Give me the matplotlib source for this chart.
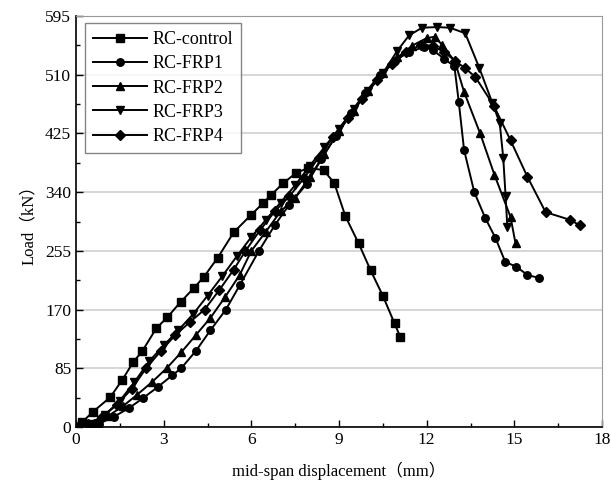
import numpy as np
import matplotlib
matplotlib.use("Agg")
import matplotlib.pyplot as plt
from matplotlib.ticker import MultipleLocator

plt.rcParams['font.family'] = ['Liberation Serif', 'Noto Sans CJK SC']

# RC-control
x_ctrl = [0, 0.21, 0.58, 1.17, 1.58, 1.96, 2.27, 2.75, 3.13, 3.58, 4.03, 4.37, 4.85, 5.4,
          5.99, 6.4, 6.68, 7.09, 7.54, 7.95, 8.47, 8.84, 9.22, 9.67, 10.08, 10.5, 10.9, 11.1]
y_ctrl = [0, 7, 22, 43, 68, 94, 110, 143, 159, 181, 201, 217, 245, 282,
          307, 324, 336, 353, 368, 375, 372, 353, 305, 266, 227, 190, 150, 130]

# RC-FRP1
x_frp1 = [0, 0.8, 1.3, 1.8, 2.3, 2.8, 3.3, 3.6, 4.1, 4.6, 5.13, 5.6, 6.26, 6.8, 7.3, 7.9,
          8.4, 8.9, 9.4, 9.9, 10.4, 10.9, 11.4, 11.9, 12.2, 12.6, 12.95, 13.1, 13.28, 13.63,
          14.0, 14.35, 14.69, 15.07, 15.45, 15.83]
y_frp1 = [0, 5, 15, 27, 42, 58, 75, 85, 110, 140, 170, 205, 255, 292, 322, 352,
          388, 422, 455, 484, 510, 530, 543, 550, 546, 533, 522, 470, 401, 340,
          303, 274, 239, 232, 220, 216]

# RC-FRP2
x_frp2 = [0, 0.6, 1.1, 1.6, 2.1, 2.6, 3.1, 3.6, 4.1, 4.6, 5.1, 5.6, 6.0, 6.5, 7.0, 7.5,
          8.0, 8.5, 9.0, 9.5, 10.0, 10.5, 11.0, 11.5, 12.0, 12.28, 12.53, 12.97, 13.28,
          13.83, 14.32, 14.87, 15.04]
y_frp2 = [0, 6, 16, 30, 47, 65, 85, 108, 133, 158, 188, 220, 255, 283, 312, 332,
          362, 395, 428, 458, 487, 512, 535, 552, 563, 565, 553, 529, 485,
          425, 365, 304, 266]

# RC-FRP3
x_frp3 = [0, 0.5, 1.0, 1.5, 2.0, 2.5, 3.0, 3.5, 4.0, 4.5, 5.0, 5.5, 6.0, 6.5, 7.0, 7.5,
          8.0, 8.5, 9.0, 9.5, 10.0, 10.5, 11.0, 11.4, 11.84, 12.35, 12.8, 13.32, 13.8,
          14.25, 14.5, 14.62, 14.7, 14.76]
y_frp3 = [0, 5, 18, 38, 65, 95, 118, 140, 163, 190, 218, 247, 275, 300, 325, 350,
          378, 405, 432, 460, 487, 512, 545, 567, 578, 579, 578, 570, 520,
          469, 440, 390, 335, 290]

# RC-FRP4
x_frp4 = [0, 0.4, 0.9, 1.4, 1.9, 2.4, 2.9, 3.4, 3.9, 4.4, 4.9, 5.4, 5.8, 6.3, 6.8, 7.3,
          7.8, 8.3, 8.8, 9.3, 9.8, 10.3, 10.8, 11.3, 11.8, 12.2, 12.6, 12.97, 13.3, 13.66,
          14.3, 14.87, 15.45, 16.07, 16.9, 17.24]
y_frp4 = [0, 4, 15, 32, 55, 85, 110, 133, 152, 170, 198, 228, 255, 285, 312, 334,
          360, 390, 420, 448, 475, 502, 525, 543, 553, 552, 543, 530, 520, 507,
          465, 415, 362, 311, 300, 292]

series = [
    ("RC-control", x_ctrl, y_ctrl, "s"),
    ("RC-FRP1", x_frp1, y_frp1, "o"),
    ("RC-FRP2", x_frp2, y_frp2, "^"),
    ("RC-FRP3", x_frp3, y_frp3, "v"),
    ("RC-FRP4", x_frp4, y_frp4, "D"),
]

fig = plt.figure(figsize=(6.11, 4.91), dpi=100)
ax = fig.add_axes([76 / 611, 1 - 427 / 491, (602 - 76) / 611, (427 - 16) / 491])

for name, xs, ys, mk in series:
    ms = 4.6 if mk == "D" else 5.4
    ax.plot(xs, ys, color="black", lw=1.4, marker=mk, ms=ms, label=name)

ax.set_xlim(0, 18)
ax.set_ylim(0, 595)
ax.xaxis.set_major_locator(MultipleLocator(3))
ax.xaxis.set_minor_locator(MultipleLocator(1.5))
ax.yaxis.set_major_locator(MultipleLocator(85))
ax.yaxis.set_minor_locator(MultipleLocator(42.5))
ax.tick_params(which="both", direction="in", labelsize=12.5, colors="black")
ax.tick_params(which="major", length=5, width=1)
ax.tick_params(which="minor", length=3, width=1)
ax.grid(axis="y", which="major", color="#d0d0d0", lw=1.2)
ax.set_axisbelow(True)

for s in ["top", "right"]:
    ax.spines[s].set_color("#999999")
for s in ["left", "bottom"]:
    ax.spines[s].set_color("black")
    ax.spines[s].set_linewidth(1.2)

ax.set_xlabel("mid-span displacement（mm）", fontsize=12, labelpad=10)
ax.set_ylabel("Load（kN）", fontsize=12, labelpad=6)

leg = ax.legend(loc="upper left", bbox_to_anchor=(0.017, 0.983), borderaxespad=0,
                fontsize=13, frameon=True, fancybox=False, edgecolor="#666666",
                handlelength=3.0, borderpad=0.45, labelspacing=0.4, handletextpad=0.3)
leg.get_frame().set_linewidth(1.0)

fig.savefig("out.png", dpi=100)
